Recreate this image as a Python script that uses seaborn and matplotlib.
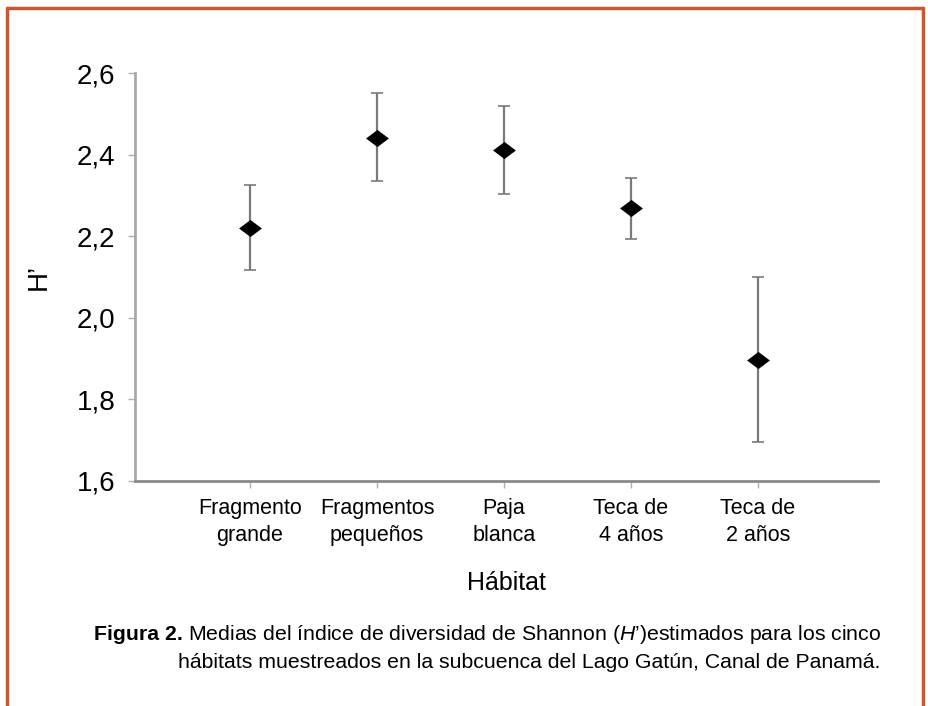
import matplotlib
matplotlib.use("Agg")
import matplotlib.pyplot as plt
import seaborn as sns
import pandas as pd
import numpy as np
from matplotlib.lines import Line2D
from matplotlib.path import Path

categories = ["Fragmento\ngrande", "Fragmentos\npequeños", "Paja\nblanca", "Teca de\n4 años", "Teca de\n2 años"]
means = [2.221, 2.440, 2.411, 2.269, 1.897]
upper = [2.325, 2.550, 2.520, 2.343, 2.099]
lower = [2.116, 2.335, 2.303, 2.193, 1.696]
yticks = [1.6, 1.8, 2.0, 2.2, 2.4, 2.6]
ytick_labels = ["1,6", "1,8", "2,0", "2,2", "2,4", "2,6"]

sns.set_theme(style="white")
plt.rcParams['font.family'] = ['Liberation Sans', 'DejaVu Sans']
plt.rcParams['mathtext.fontset'] = 'custom'
plt.rcParams['mathtext.rm'] = 'Liberation Sans'
plt.rcParams['mathtext.it'] = 'Liberation Sans:italic'
for k in ['text.color', 'axes.labelcolor', 'xtick.color', 'ytick.color']:
    plt.rcParams[k] = 'black'

df = pd.DataFrame({"Hábitat": categories, "H": means, "lo": lower, "hi": upper})

fig = plt.figure(figsize=(9.29, 7.06), dpi=100)
ax = fig.add_axes([135/929, (706-481)/706, (878-135)/929, (481-73)/706])

xpos = np.arange(len(categories))
yerr = np.vstack([df["H"] - df["lo"], df["hi"] - df["H"]])
ax.errorbar(xpos, df["H"], yerr=yerr, fmt="none", ecolor="#7a7a7a",
            elinewidth=1.6, capsize=4, capthick=1.2, zorder=2)
diamond = Path([(-1, 0), (0, 0.75), (1, 0), (0, -0.75), (-1, 0)],
               [Path.MOVETO, Path.LINETO, Path.LINETO, Path.LINETO, Path.CLOSEPOLY])
sns.scatterplot(x=xpos, y=df["H"], marker=diamond, s=270, color="black",
                edgecolor="black", linewidth=0, ax=ax, zorder=3)

ax.set_ylim(1.6, 2.6)
ax.set_xlim(-0.906, 4.945)
ax.set_yticks(yticks)
ax.set_yticklabels(ytick_labels, fontsize=20)
ax.set_xticks(xpos)
ax.set_xticklabels(categories, fontsize=15.5, linespacing=1.4)
for s in ["top", "right"]:
    ax.spines[s].set_visible(False)
ax.spines["left"].set_color("#a8a8a8")
ax.spines["bottom"].set_color("#8a8a8a")
for s in ["left", "bottom"]:
    ax.spines[s].set_linewidth(2)
ax.tick_params(axis="both", which="both", direction="out", length=5, width=1,
               color="#b0b0b0", left=True, bottom=True, pad=7)
ax.tick_params(axis="y", pad=9)
ax.set_xlabel("Hábitat", fontsize=18, labelpad=18)
ax.set_ylabel("H’", fontsize=20, labelpad=18)

# caption
fs = 15.3
fig.text(183/929, 1-634/706, "Figura 2.", fontsize=fs, fontweight="bold",
         ha="right", va="center")
fig.text(188/929, 1-634/706,
         r"Medias del índice de diversidad de Shannon ($\mathit{H}$’)estimados para los cinco",
         fontsize=fs, ha="left", va="center")
fig.text(880/929, 1-662/706,
         "hábitats muestreados en la subcuenca del Lago Gatún, Canal de Panamá.",
         fontsize=fs, ha="right", va="center")

# orange frame
oc = "#d0562a"
fig.add_artist(Line2D([7/929, 923/929], [1-8/706, 1-8/706], color=oc, lw=2.5, transform=fig.transFigure))
fig.add_artist(Line2D([7/929, 7/929], [0, 1-8/706], color=oc, lw=2.5, transform=fig.transFigure))
fig.add_artist(Line2D([923/929, 923/929], [0, 1-8/706], color=oc, lw=2.5, transform=fig.transFigure))

fig.savefig("out.png", dpi=100, facecolor="white")
